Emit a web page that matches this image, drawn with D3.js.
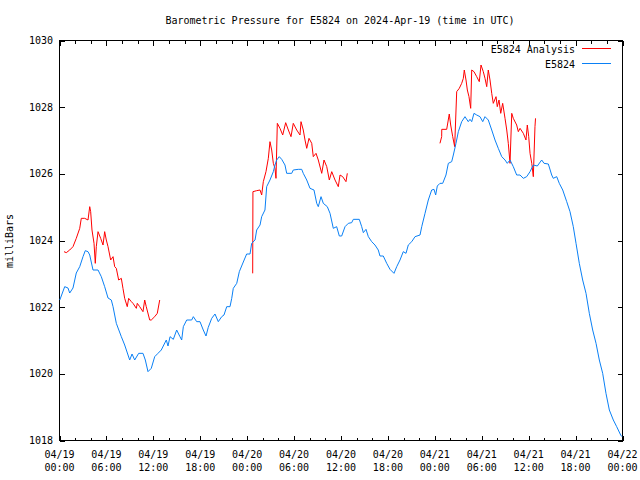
<!DOCTYPE html>
<html>
<head>
<meta charset="utf-8">
<script src="https://cdn.jsdelivr.net/npm/d3@7"></script>
<style>
  html, body { margin: 0; padding: 0; background: #fff; }
  text { font-family: "DejaVu Sans Mono", "Liberation Mono", monospace; font-size: 10px; fill: #000; }
</style>
</head>
<body>
<svg id="chart" width="640" height="480"></svg>
<script>
// ---- Data (hours since 2024-04-19 00:00 UTC, pressure in mb) ----
const title = "Barometric Pressure for E5824 on 2024-Apr-19 (time in UTC)";
const yLabel = "milliBars";
const seriesNames = ["E5824 Analysis", "E5824"];
const yTicks = [1018, 1020, 1022, 1024, 1026, 1028, 1030];

const stationHours = [
  0.1,0.73,1.15,1.37,1.79,2.21,2.65,3.07,3.36,3.71,3.93,4.35,4.99,5.41,5.84,6.27,6.69,6.91,7.33,7.97,
  8.4,9.04,9.34,9.68,10.19,10.74,11.04,11.38,11.8,12.24,12.66,13.08,13.72,13.94,14.2,14.62,15.05,15.47,15.69,15.9,
  16.33,16.97,17.18,17.61,18.03,18.45,18.8,19.09,19.53,19.95,20.37,20.81,21.1,21.45,21.87,22.09,22.29,22.73,23.06,23.57,
  24.0,24.43,24.64,25.07,25.28,25.71,25.92,26.34,26.56,26.98,27.41,27.62,27.84,28.17,28.48,28.9,29.12,29.76,29.96,30.6,
  31.04,31.24,31.68,32.1,32.61,32.96,33.16,33.51,33.8,34.31,34.66,35.08,35.51,35.85,36.15,36.58,37.0,37.43,37.64,38.4,
  38.71,38.92,39.26,39.56,39.99,40.41,40.83,41.05,41.47,41.91,42.33,42.84,43.19,43.61,44.03,44.38,44.67,45.11,45.53,46.17,
  46.39,46.81,47.23,47.66,47.96,48.17,48.38,48.72,49.07,49.49,49.79,50.22,50.43,50.77,51.07,51.5,51.92,52.34,52.56,52.78,
  53.07,53.42,53.84,54.19,54.48,54.9,55.34,55.76,56.18,56.62,57.04,57.33,57.68,58.1,58.53,58.96,59.38,59.81,60.24,60.66,
  61.17,61.73,62.03,62.58,63.01,63.21,63.65,63.98,64.42,64.93,65.35,65.77,66.12,66.54,66.97,67.4,67.82,68.25,68.68,69.1,
  69.53,69.95,70.38,70.89,71.32,71.83,72.0
];
const stationPressure = [
  1022.2,1022.6,1022.56,1022.41,1022.56,1023.01,1023.2,1023.5,1023.68,1023.65,1023.55,1023.1,1023.1,1022.9,1022.6,1022.26,1022.2,1022.0,1021.5,1021.1,
  1020.85,1020.4,1020.58,1020.4,1020.6,1020.6,1020.4,1020.05,1020.15,1020.5,1020.6,1020.7,1021.0,1020.82,1021.1,1021.02,1021.3,1021.1,1021.0,1021.4,
  1021.6,1021.6,1021.7,1021.55,1021.55,1021.3,1021.12,1021.38,1021.65,1021.78,1021.55,1021.7,1021.75,1022.0,1022.0,1022.25,1022.55,1022.7,1023.05,1023.34,
  1023.58,1023.58,1023.9,1024.0,1024.3,1024.45,1024.7,1024.9,1025.6,1025.8,1026.05,1026.25,1026.4,1026.5,1026.42,1026.25,1026.0,1026.0,1026.1,1026.12,
  1026.12,1026.0,1025.8,1025.55,1025.5,1025.1,1025.0,1025.3,1025.1,1025.0,1024.8,1024.35,1024.4,1024.12,1024.12,1024.4,1024.5,1024.52,1024.62,1024.62,
  1024.4,1024.22,1024.32,1024.1,1023.95,1023.85,1023.7,1023.52,1023.52,1023.3,1023.12,1023.0,1023.2,1023.4,1023.65,1023.6,1023.85,1023.95,1024.1,1024.15,
  1024.4,1024.8,1025.2,1025.5,1025.52,1025.35,1025.62,1025.7,1025.7,1025.95,1026.3,1026.35,1026.55,1026.9,1027.25,1027.55,1027.7,1027.55,1027.62,1027.55,
  1027.8,1027.75,1027.7,1027.55,1027.7,1027.6,1027.3,1027.0,1026.75,1026.5,1026.4,1026.3,1026.4,1026.2,1025.95,1025.95,1025.85,1025.9,1026.05,1026.25,
  1026.22,1026.4,1026.3,1026.28,1025.95,1025.85,1025.9,1025.7,1025.5,1025.15,1024.85,1024.4,1023.9,1023.3,1022.8,1022.4,1021.8,1021.3,1020.9,1020.4,
  1020.0,1019.4,1018.9,1018.6,1018.4,1018.15,1018.1
];

// Analysis series: three runs separated by null
const analysisHours = [
  0.64,0.93,1.37,1.79,2.21,2.65,2.85,3.29,3.71,3.93,4.05,4.22,4.48,4.64,4.77,4.99,5.33,5.63,5.84,6.05,
  6.27,6.61,6.91,7.12,7.33,7.63,7.97,8.18,8.4,8.73,8.91,9.25,9.46,9.89,10.01,10.32,10.74,10.96,11.16,11.6,
  11.8,12.24,12.57,12.88,
  null,
  24.77,24.8,25.28,25.71,25.92,26.13,26.47,26.77,26.98,27.2,27.41,27.62,27.75,27.92,28.26,28.61,28.99,29.33,29.67,29.96,
  30.4,30.82,30.95,31.24,31.46,31.68,31.97,32.32,32.52,32.87,33.16,33.6,33.89,34.24,34.57,34.88,35.3,35.72,35.94,36.28,
  36.7,36.87,
  null,
  48.72,48.94,48.95,49.58,49.91,50.09,50.35,50.6,50.86,51.19,51.5,51.71,51.83,52.05,52.22,52.43,52.65,52.78,53.07,53.42,
  53.75,53.97,54.26,54.48,54.7,54.9,55.12,55.34,55.54,55.89,56.05,56.27,56.49,56.74,57.04,57.26,57.46,57.68,57.9,58.1,
  58.53,58.74,58.96,59.38,59.72,59.89,60.07,60.24,60.46,60.66,60.87,60.94
];
const analysisPressure = [
  1023.65,1023.62,1023.7,1023.8,1024.05,1024.35,1024.65,1024.65,1024.6,1025.0,1024.85,1024.3,1023.9,1023.3,1023.8,1024.25,1024.05,1023.85,1024.25,1024.0,
  1023.8,1023.4,1023.5,1023.2,1023.15,1022.8,1022.85,1022.55,1022.25,1022.0,1022.25,1022.15,1022.1,1021.95,1022.1,1022.0,1021.85,1022.2,1022.0,1021.6,
  1021.6,1021.7,1021.8,1022.2,
  null,
  1023.0,1025.45,1025.48,1025.5,1025.35,1025.75,1026.05,1026.45,1026.95,1026.7,1026.3,1026.15,1025.85,1027.5,1027.35,1027.15,1027.52,1027.3,1027.1,1027.5,
  1027.3,1027.15,1027.55,1027.3,1027.0,1026.75,1027.05,1026.9,1026.5,1026.6,1026.4,1026.0,1026.4,1026.2,1025.8,1026.05,1025.8,1025.6,1025.95,1025.9,
  1025.75,1026.0,
  null,
  1026.9,1027.1,1027.32,1027.32,1027.78,1027.45,1027.1,1026.8,1028.45,1028.55,1028.7,1028.85,1029.1,1028.8,1028.5,1028.3,1027.95,1029.1,1029.05,1028.9,
  1028.75,1029.25,1029.05,1028.85,1028.6,1029.1,1028.8,1028.4,1028.1,1028.3,1028.0,1028.2,1027.8,1028.1,1027.65,1027.3,1026.9,1026.3,1027.8,1027.65,
  1027.45,1027.25,1027.35,1027.2,1027.0,1027.45,1027.1,1026.6,1026.3,1025.9,1027.4,1027.65
];

// ---- Chart ----
const start = Date.UTC(2024, 3, 19, 0, 0);
const end = Date.UTC(2024, 3, 22, 0, 0);
const toDate = h => new Date(start + h * 3600e3);

const L = 59, R = 622, T = 40, B = 440;
const svg = d3.select("#chart");

const x = d3.scaleUtc().domain([new Date(start), new Date(end)]).range([L, R]);
const y = d3.scaleLinear().domain([1018, 1030]).range([B, T]);

// frame
svg.append("rect").attr("x", L + 0.5).attr("y", T + 0.5)
  .attr("width", R - L).attr("height", B - T)
  .attr("fill", "none").attr("stroke", "#000").attr("stroke-width", 1)
  .attr("shape-rendering", "crispEdges");

const majorX = d3.utcHour.every(6).range(new Date(start), new Date(end + 1));
const minorX = d3.utcHour.every(2).range(new Date(start), new Date(end + 1))
  .filter(d => d.getUTCHours() % 6 !== 0);

// x axis (bottom) with inward ticks, and mirrored top ticks
const xAxisB = d3.axisBottom(x).tickValues(majorX).tickSize(-5).tickFormat("");
const xAxisBm = d3.axisBottom(x).tickValues(minorX).tickSize(-3).tickFormat("");
const xAxisT = d3.axisTop(x).tickValues(majorX).tickSize(-5).tickFormat("");
const xAxisTm = d3.axisTop(x).tickValues(minorX).tickSize(-3).tickFormat("");
[[xAxisB, B], [xAxisBm, B], [xAxisT, T], [xAxisTm, T]].forEach(([ax, pos]) => {
  const g = svg.append("g").attr("transform", `translate(0.5,${pos + 0.5})`).call(ax);
  g.select(".domain").remove();
  g.selectAll("line").attr("stroke", "#000").attr("shape-rendering", "crispEdges");
});

// x tick labels (two lines)
const fmtDate = d3.utcFormat("%m/%d");
const fmtTime = d3.utcFormat("%H:%M");
const xl = svg.append("g");
majorX.forEach(d => {
  const t = xl.append("text").attr("text-anchor", "middle").attr("x", x(d) + 0.5);
  t.append("tspan").attr("x", x(d) + 0.5).attr("y", 458).text(fmtDate(d));
  t.append("tspan").attr("x", x(d) + 0.5).attr("y", 471).text(fmtTime(d));
});

// y axis left & right
const yAxisL = d3.axisLeft(y).tickValues(yTicks).tickSize(-5).tickFormat("");
const yAxisR = d3.axisRight(y).tickValues(yTicks).tickSize(-5).tickFormat("");
[[yAxisL, L], [yAxisR, R]].forEach(([ax, pos]) => {
  const g = svg.append("g").attr("transform", `translate(${pos + 0.5},0.5)`).call(ax);
  g.select(".domain").remove();
  g.selectAll("line").attr("stroke", "#000").attr("shape-rendering", "crispEdges");
});
svg.append("g").selectAll("text").data(yTicks).join("text")
  .attr("x", 53).attr("y", d => y(d) + 4).attr("text-anchor", "end")
  .text(d => d);

// title & axis label
svg.append("text").attr("x", 340).attr("y", 24).attr("text-anchor", "middle").text(title);
svg.append("text").attr("transform", "translate(13,241) rotate(-90)")
  .attr("text-anchor", "middle").text(yLabel);

// lines
const stationData = stationHours.map((h, i) => ({ t: toDate(h), v: stationPressure[i] }));
const analysisData = analysisHours.map((h, i) => ({ t: h === null ? null : toDate(h), v: analysisPressure[i] }));
const line = d3.line().defined(d => d.v !== null && d.t !== null)
  .x(d => x(d.t)).y(d => y(d.v));

svg.append("path").datum(analysisData).attr("d", line)
  .attr("fill", "none").attr("stroke", "#ff0000").attr("stroke-width", 1);
svg.append("path").datum(stationData).attr("d", line)
  .attr("fill", "none").attr("stroke", "#0a80f5").attr("stroke-width", 1);

// legend
const legendColors = ["#ff0000", "#0a80f5"];
seriesNames.forEach((name, i) => {
  const ly = 49 + i * 15;
  svg.append("text").attr("x", 575).attr("y", ly + 3.5).attr("text-anchor", "end").text(name);
  svg.append("line").attr("x1", 582).attr("x2", 611).attr("y1", ly - 0.5).attr("y2", ly - 0.5)
    .attr("stroke", legendColors[i]).attr("stroke-width", 1);
});
</script>
</body>
</html>
